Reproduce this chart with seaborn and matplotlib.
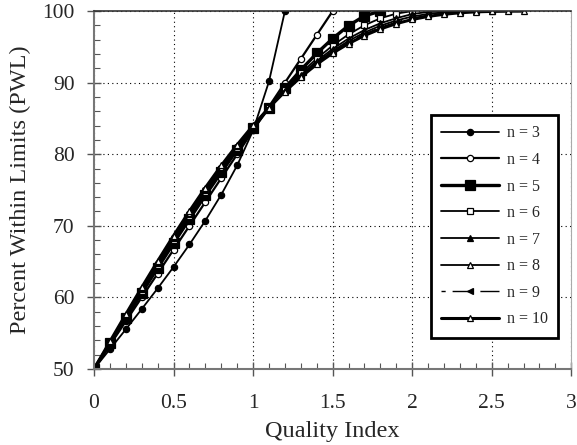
import pandas
import seaborn as sns
from matplotlib import pyplot as plt
from matplotlib.ticker import MultipleLocator

# quality index values (markers every 0.1)
quality_index = [0.0, 0.1, 0.2, 0.3, 0.4, 0.5, 0.6, 0.7, 0.8, 0.9, 1.0, 1.1, 1.2, 1.3,
                 1.4, 1.5, 1.6, 1.7, 1.8, 1.9, 2.0, 2.1, 2.2, 2.3, 2.4, 2.5, 2.6, 2.7]

pwl_n3 = [50, 52.76, 55.54, 58.37, 61.26, 64.25, 67.39, 70.73, 74.36, 78.45, 83.33, 90.19, 100]
pwl_n4 = [50, 53.33, 56.67, 60.00, 63.33, 66.67, 70.00, 73.33, 76.67, 80.00, 83.33, 86.67, 90.00,
          93.33, 96.67, 100]
pwl_n5 = [50, 53.56, 57.10, 60.63, 64.11, 67.56, 70.95, 74.26, 77.49, 80.62, 83.64, 86.52, 89.24,
          91.78, 94.10, 96.17, 97.97, 99.33, 100]
pwl_n6 = [50, 53.67, 57.32, 60.94, 64.51, 68.00, 71.41, 74.71, 77.89, 80.93, 83.80, 86.50, 89.01,
          91.31, 93.37, 95.19, 96.75, 98.02, 99.00, 99.65, 100]
pwl_n7 = [50, 53.74, 57.46, 61.13, 64.74, 68.27, 71.68, 74.97, 78.12, 81.10, 83.90, 86.51, 88.90,
          91.08, 93.02, 94.72, 96.17, 97.36, 98.30, 99.01, 99.59, 99.89, 99.98, 100]
pwl_n8 = [50, 53.78, 57.54, 61.25, 64.89, 68.43, 71.85, 75.14, 78.26, 81.21, 83.96, 86.51, 88.83,
          90.94, 92.81, 94.44, 95.84, 97.01, 97.96, 98.69, 99.24, 99.61, 99.84, 99.96, 100, 100]
pwl_n9 = [50, 53.81, 57.60, 61.33, 64.98, 68.53, 71.96, 75.24, 78.35, 81.27, 84.00, 86.51, 88.80,
          90.86, 92.69, 94.28, 95.65, 96.80, 97.73, 98.47, 99.03, 99.44, 99.72, 99.88, 99.96, 99.99, 100]
pwl_n10 = [50, 53.84, 57.65, 61.40, 65.07, 68.63, 72.06, 75.33, 78.43, 81.33, 84.03, 86.50, 88.76,
           90.78, 92.57, 94.13, 95.46, 96.59, 97.51, 98.25, 98.83, 99.26, 99.56, 99.77, 99.90, 99.96,
           99.99, 100]

series = [('n = 3', pwl_n3), ('n = 4', pwl_n4), ('n = 5', pwl_n5), ('n = 6', pwl_n6),
          ('n = 7', pwl_n7), ('n = 8', pwl_n8), ('n = 9', pwl_n9), ('n = 10', pwl_n10)]

# marker, face colour, marker size, line width, dashes
styles = {
    'n = 3': ('o', 'black', 4.5, 1.3, None),
    'n = 4': ('o', 'white', 4.5, 1.6, None),
    'n = 5': ('s', 'black', 6.5, 2.4, None),
    'n = 6': ('s', 'white', 5, 1.3, None),
    'n = 7': ('^', 'black', 5, 1.3, None),
    'n = 8': ('^', 'white', 4.5, 1.3, None),
    'n = 9': ('<', 'black', 5, 1.0, (3, 5, 12, 0)),
    'n = 10': ('^', 'white', 4.5, 2.2, None),
}

sns.set_style('ticks')
plt.rcParams['font.family'] = ['Liberation Serif', 'DejaVu Serif']

fig = plt.figure(figsize=(5.77, 4.45), dpi=100)
ax = fig.add_axes([0.163, 0.171, 0.827, 0.804])

for name, values in series:
    df = pandas.DataFrame({'q': quality_index[:len(values)], 'pwl': values})
    marker, face, size, lw, dashes = styles[name]
    sns.lineplot(x='q', y='pwl', data=df, ax=ax, color='black', marker=marker,
                 markerfacecolor=face, markeredgecolor='black', markersize=size,
                 markeredgewidth=0.9, linewidth=lw, label=name)
    if dashes is not None:
        ax.lines[-1].set_dashes(dashes)

ax.set_xlim(0, 3)
ax.set_ylim(50, 100)
ax.xaxis.set_minor_locator(MultipleLocator(0.1))
ax.yaxis.set_major_locator(MultipleLocator(10))
ax.yaxis.set_minor_locator(MultipleLocator(2))
ax.set_xticks([0, 0.5, 1, 1.5, 2, 2.5, 3])
ax.set_xticklabels(['0', '0.5', '1', '1.5', '2', '2.5', '3'])
ax.grid(True, which='major', color='black', linestyle=(0, (1, 3)), linewidth=0.8)
ax.tick_params(axis='both', which='major', direction='inout', length=10, width=1.0,
               color='#555555', labelsize=15.5, pad=9)
ax.tick_params(axis='x', which='major', pad=13)
ax.tick_params(axis='both', which='minor', direction='in', length=4, width=0.8, color='#555555')
for side in ['left', 'bottom']:
    ax.spines[side].set_color('#777777')
    ax.spines[side].set_linewidth(1.5)
ax.spines['top'].set_color('#333333')
ax.spines['top'].set_linewidth(1.2)
ax.spines['right'].set_color('#aaaaaa')
ax.spines['right'].set_linewidth(0.8)

ax.set_xlabel('Quality Index', fontsize=17.5, labelpad=6)
ax.set_ylabel('Percent Within Limits (PWL)', fontsize=17.5, labelpad=8)

leg = ax.legend(loc='upper right', bbox_to_anchor=(0.973, 0.7095), fontsize=11.5, frameon=True,
                fancybox=False, handlelength=3.6, labelspacing=0.66, borderpad=0.65,
                handletextpad=0.5, borderaxespad=0)
leg.get_frame().set_edgecolor('black')
leg.get_frame().set_linewidth(2.0)
leg.get_frame().set_facecolor('white')
leg.get_frame().set_alpha(1)

plt.savefig('out.png', dpi=100)
